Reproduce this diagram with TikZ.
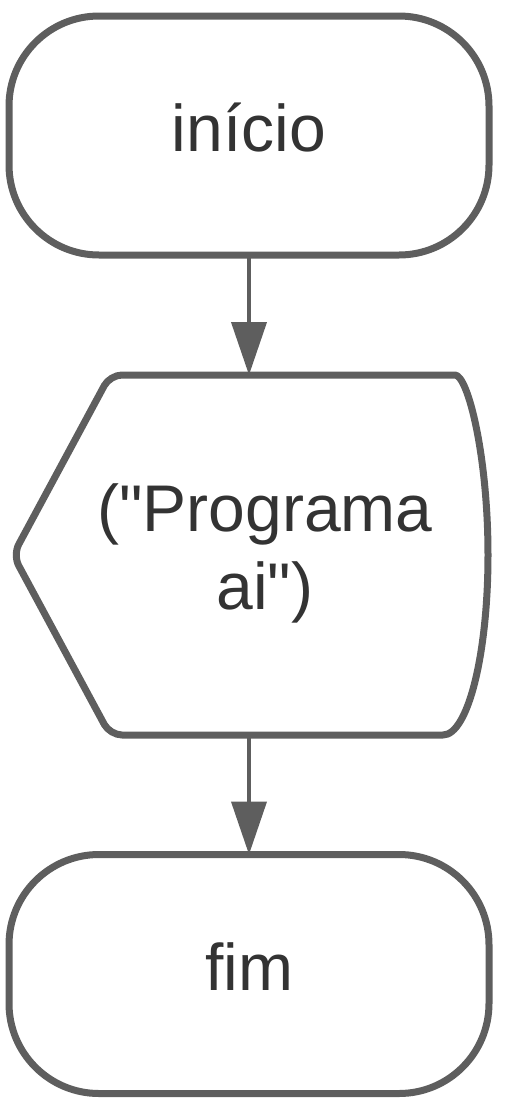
\documentclass[tikz,border=0pt]{standalone}
\usepackage{fontspec}
\setmainfont{Liberation Sans}
\usepackage{tikz}
\usetikzlibrary{positioning,arrows.meta,calc}
\definecolor{edge}{HTML}{5E5E5E}
\definecolor{ink}{HTML}{333333}

\begin{document}
\begin{tikzpicture}[x=0.5pt, y=0.5pt,
  term/.style={rectangle, draw=edge, line width=3.5pt, rounded corners=45pt,
               minimum width=240pt, minimum height=119.5pt, inner sep=0pt, outer sep=0pt,
               text height=16pt, text depth=0pt,
               font=\fontsize{33}{39}\selectfont, text=ink},
  txt/.style={font=\fontsize{33}{39}\selectfont, text=ink, align=center},
  outline/.style={draw=edge, line width=3.5pt, line join=round},
  arr/.style={-{Triangle[length=26.5pt,width=17.5pt]}, draw=edge, line width=2pt}
]
\useasboundingbox (0,0) rectangle (509,-1114);
\node[term] (start) at (249,-135.5) {início};
\node[txt] (disp) at (265,-553) {(\textquotedbl Programa\\ai\textquotedbl)};
\node[term] (stop) at (249,-974) {fim};
% display shape
\draw[outline] (443,-375) arc[start angle=90, end angle=-90, x radius=22.5pt, y radius=90pt]
  [rounded corners=6pt] -- (110,-735) -- (13,-555) -- (110,-375) -- cycle;
\coordinate (disptop) at (249,-375);
\coordinate (dispbot) at (249,-735);
\draw[arr] (start.south) -- (disptop);
\draw[arr] (dispbot) -- (stop.north);
\end{tikzpicture}
\end{document}
